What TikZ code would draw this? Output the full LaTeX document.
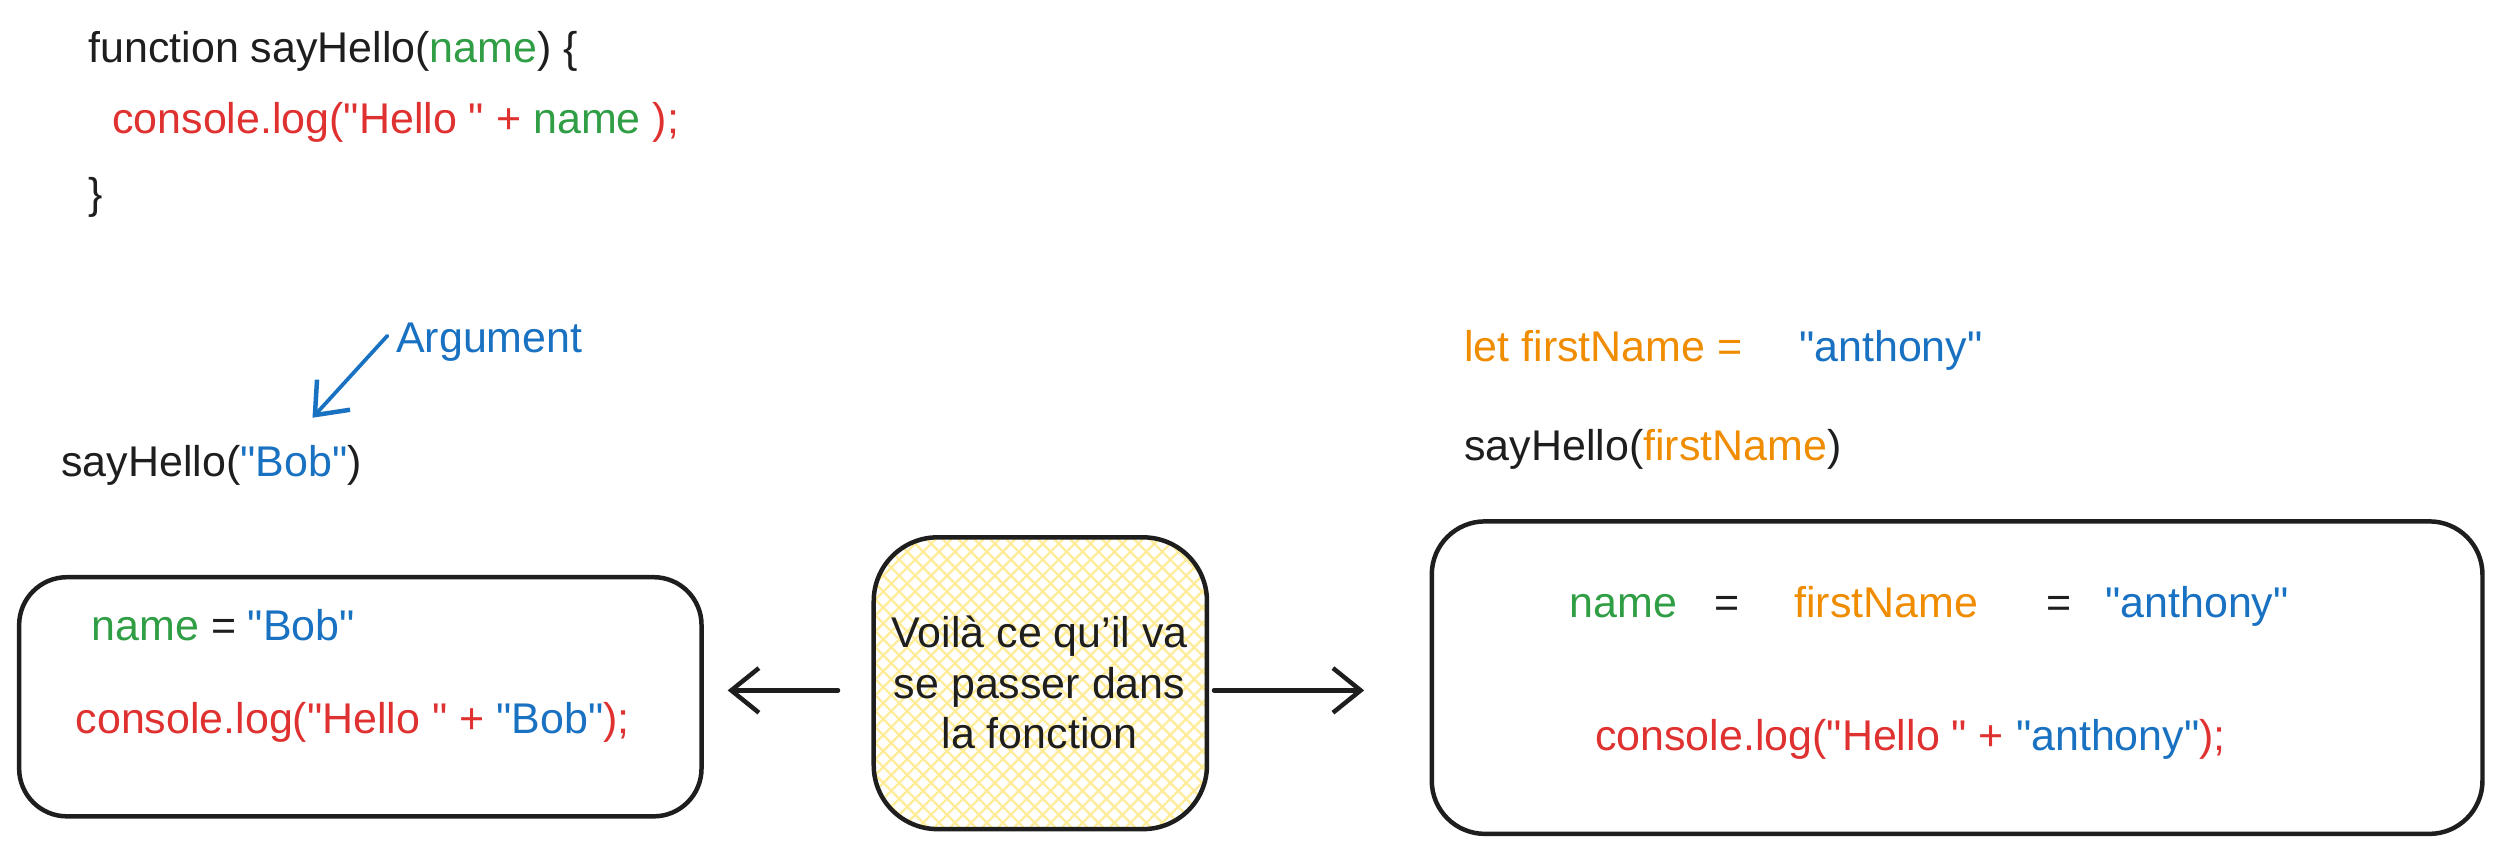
\documentclass[tikz,border=0pt]{standalone}
\usepackage{fontspec}
\setmainfont{Liberation Sans}[Ligatures=TeXOff]
\usetikzlibrary{arrows.meta,fit}
\definecolor{cblack}{HTML}{1E1E1E}
\definecolor{cgreen}{HTML}{2F9E44}
\definecolor{cred}{HTML}{E03131}
\definecolor{cblue}{HTML}{1971C2}
\definecolor{corange}{HTML}{F08C00}
\definecolor{cyellow}{HTML}{FFEC99}
\begin{document}
\begin{tikzpicture}[x=0.15mm,y=-0.15mm,
  txt/.style={anchor=base west, inner sep=0pt, font=\fontsize{11.5}{13}\selectfont, text=cblack},
  box/.style={draw=cblack, line width=1.2pt, inner sep=0pt},
  arr/.style={draw=cblack, line width=1.2pt, line cap=round, -{Straight Barb[length=2.6mm,width=4.2mm,line width=1.2pt]}},
  hatch/.style={draw=cyellow, line width=0.6pt}]
\fill[white] (0,0) rectangle (1568,538);
\useasboundingbox (0,0) rectangle (1568,538);

% top function
\node[txt] (fn) at (55,39) {function sayHello(\textcolor{cgreen}{name}) \{};
\node[txt,text=cred] (log) at (70,84) {console.log("Hello " + \textcolor{cgreen}{name} );};
\node[txt] (close) at (55,131) {\}};

% argument
\node[txt,text=cblue] (arg) at (248,221) {Argument};
\coordinate (argtip) at (196,262);
\draw[arr, draw=cblue, line width=1pt] ([xshift=-0.75mm,yshift=0.6mm]arg.west) -- (argtip);
\node[txt] (call) at (38,299) {sayHello(\textcolor{cblue}{"Bob"})};

% left box
\node[box, rounded corners=4.5mm, fit={(12,362) (440,512)}] (lbox) {};
\node[txt,text=cgreen] (lname) at (57,402) {name};
\node[txt] (leq) at (132,402) {=};
\node[txt,text=cblue] (lbob) at (155,402) {"Bob"};
\node[txt,text=cred] (llog) at (47,460) {console.log("Hello " + \textcolor{cblue}{"Bob"});};

% middle box
\begin{scope}
  \clip[rounded corners=6mm] (548,337) rectangle (757,520);
  \foreach \x in {350,360,...,760} \draw[hatch] (\x,337) -- ++(190,190);
  \foreach \x in {548,558,...,950} \draw[hatch] (\x,337) -- ++(-190,190);
\end{scope}
\node[box, rounded corners=6mm, fit={(548,337) (757,520)}] (mid) {};
\node[font=\fontsize{11.5}{13.5}\selectfont, align=center, inner sep=0pt, text=cblack] (midtxt) at (652,428) {Voilà ce qu’il va\\se passer dans\\la fonction};

% right side
\node[txt,text=corange] (let) at (918,227) {let firstName =};
\node[txt,text=cblue] (anth) at (1128,227) {"anthony"};
\node[txt] (call2) at (918,289) {sayHello(\textcolor{corange}{firstName})};
\node[box, rounded corners=5mm, fit={(898,327) (1557,523)}] (rbox) {};
\node[txt,text=cgreen] (rname) at (984,387) {name};
\node[txt] (req1) at (1075,387) {=};
\node[txt,text=corange] (rfirst) at (1125,387) {firstName};
\node[txt] (req2) at (1283,387) {=};
\node[txt,text=cblue] (ranth) at (1320,387) {"anthony"};
\node[txt,text=cred] (rlog) at (1000,471) {console.log("Hello " + \textcolor{cblue}{"anthony"});};

% arrows
\coordinate (ay) at (0,433);
\draw[arr, shorten <=3.15mm, shorten >=2.25mm] (mid.west |- ay) -- (lbox.east |- ay);
\draw[arr, shorten <=0.45mm, shorten >=6.15mm] (mid.east |- ay) -- (rbox.west |- ay);
\end{tikzpicture}
\end{document}
